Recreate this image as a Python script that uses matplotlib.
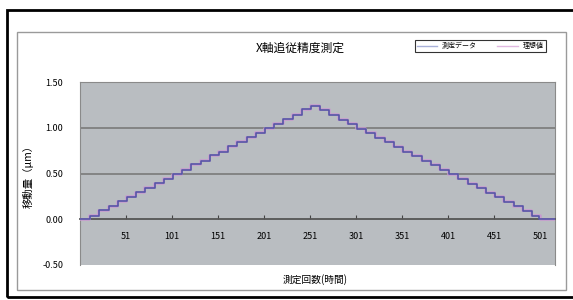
#!/usr/bin/env python3
"""X軸追従精度測定 - 測定データと理想値の比較"""
import matplotlib
matplotlib.use('Agg')
import matplotlib.pyplot as plt
from matplotlib.patches import Rectangle
from matplotlib.lines import Line2D

plt.rcParams['font.family'] = ['Noto Sans CJK JP', 'DejaVu Sans']
plt.rcParams['axes.unicode_minus'] = False

# 理想値: 階段の開始位置と高さ
ideal_x = [1, 11, 21, 31, 41, 51, 61, 71, 81, 91, 101, 111, 121, 131, 141,
           151, 161, 171, 181, 191, 201, 211, 221, 231, 241, 251,
           261, 271, 281, 291, 301, 311, 321, 331, 341, 351, 361, 371, 381,
           391, 401, 411, 421, 431, 441, 451, 461, 471, 481, 491, 501, 517]
ideal_y = [0.00, 0.05, 0.10, 0.15, 0.20, 0.25, 0.30, 0.35, 0.40, 0.45, 0.50,
           0.55, 0.60, 0.65, 0.70, 0.75, 0.80, 0.85, 0.90, 0.95, 1.00, 1.05,
           1.10, 1.15, 1.20, 1.25,
           1.20, 1.15, 1.10, 1.05, 1.00, 0.95, 0.90, 0.85, 0.80, 0.75, 0.70,
           0.65, 0.60, 0.55, 0.50, 0.45, 0.40, 0.35, 0.30, 0.25, 0.20, 0.15,
           0.10, 0.05, 0.00, 0.00]

# 測定データ: 理想値より少し遅れて追従
meas_x = [1, 12, 22, 32, 42, 52, 62, 72, 82, 92, 102, 112, 122, 132, 142,
          152, 162, 172, 182, 192, 202, 212, 222, 232, 242, 252,
          262, 272, 282, 292, 302, 312, 322, 332, 342, 352, 362, 372, 382,
          392, 402, 412, 422, 432, 442, 452, 462, 472, 482, 492, 500, 517]
meas_y = [0.00, 0.04, 0.10, 0.14, 0.20, 0.24, 0.30, 0.34, 0.40, 0.44, 0.50,
          0.54, 0.60, 0.64, 0.70, 0.74, 0.80, 0.84, 0.90, 0.94, 1.00, 1.04,
          1.10, 1.14, 1.20, 1.24,
          1.19, 1.14, 1.09, 1.04, 0.99, 0.94, 0.89, 0.84, 0.79, 0.74, 0.69,
          0.64, 0.59, 0.54, 0.49, 0.44, 0.39, 0.34, 0.29, 0.24, 0.19, 0.14,
          0.09, 0.04, 0.00, 0.00]

x_ticks = [51, 101, 151, 201, 251, 301, 351, 401, 451, 501]
y_ticks = [-0.50, 0.00, 0.50, 1.00, 1.50]

fig = plt.figure(figsize=(5.73, 3.00), dpi=100)

# 外枠と内枠
fig.patches.append(Rectangle((7 / 573, 3 / 300), 570 / 573, 287 / 300,
                             transform=fig.transFigure, fill=False,
                             edgecolor='black', linewidth=2))
fig.patches.append(Rectangle((17 / 573, 10 / 300), 549 / 573, 258 / 300,
                             transform=fig.transFigure, fill=False,
                             edgecolor='#9a9a9a', linewidth=1))

ax = fig.add_axes([80 / 573, 35 / 300, 475 / 573, 183 / 300])
ax.set_facecolor('#b9bdc1')

ax.plot(ideal_x, ideal_y, drawstyle='steps-post', color='#c89ad0',
        linewidth=1.8, label='理想値', zorder=3)
ax.plot(meas_x, meas_y, drawstyle='steps-post', color='#5656a6',
        linewidth=1.2, label='測定データ', zorder=4)

ax.set_xlim(1, 517)
ax.set_ylim(-0.5, 1.5)

# 目盛線
for y in [0.5, 1.0]:
    ax.axhline(y, color='#7f7f7f', linewidth=1.3, zorder=1)

ax.spines['bottom'].set_position(('data', 0))
ax.spines['bottom'].set_color('#555555')
ax.spines['bottom'].set_linewidth(1.3)
for s in ['left', 'right', 'top']:
    ax.spines[s].set_color('#8a8a8a')
    ax.spines[s].set_linewidth(0.8)

ax.set_xticks(x_ticks)
ax.set_xticklabels([str(t) for t in x_ticks], fontsize=6.5)
ax.tick_params(axis='x', direction='in', length=3, pad=9, color='#444444')
ax.set_yticks(y_ticks)
ax.set_yticklabels(['%.2f' % t for t in y_ticks], fontsize=6.5)
ax.tick_params(axis='y', length=0, pad=12)

ax.set_ylabel('移動量（μm）', fontsize=7.5, labelpad=6)
fig.text(315 / 573, 1 - 280 / 300, '測定回数(時間)', fontsize=7,
         ha='center', va='center')
fig.text(300 / 573, 1 - 48 / 300, 'X軸追従精度測定', fontsize=8.5,
         ha='center', va='center')

handles = [Line2D([], [], color='#a8b0d8', linewidth=1),
           Line2D([], [], color='#e0b8e0', linewidth=1)]
leg = fig.legend(handles, ['測定データ', '理想値'], loc='center',
                 bbox_to_anchor=(480 / 573, 1 - 46 / 300), ncol=2,
                 fontsize=5, frameon=True, fancybox=False, borderpad=0.3,
                 handlelength=3, columnspacing=3, handletextpad=0.6)
leg.get_frame().set_edgecolor('black')
leg.get_frame().set_linewidth(0.8)

plt.savefig('out.png', dpi=100)
plt.close()
